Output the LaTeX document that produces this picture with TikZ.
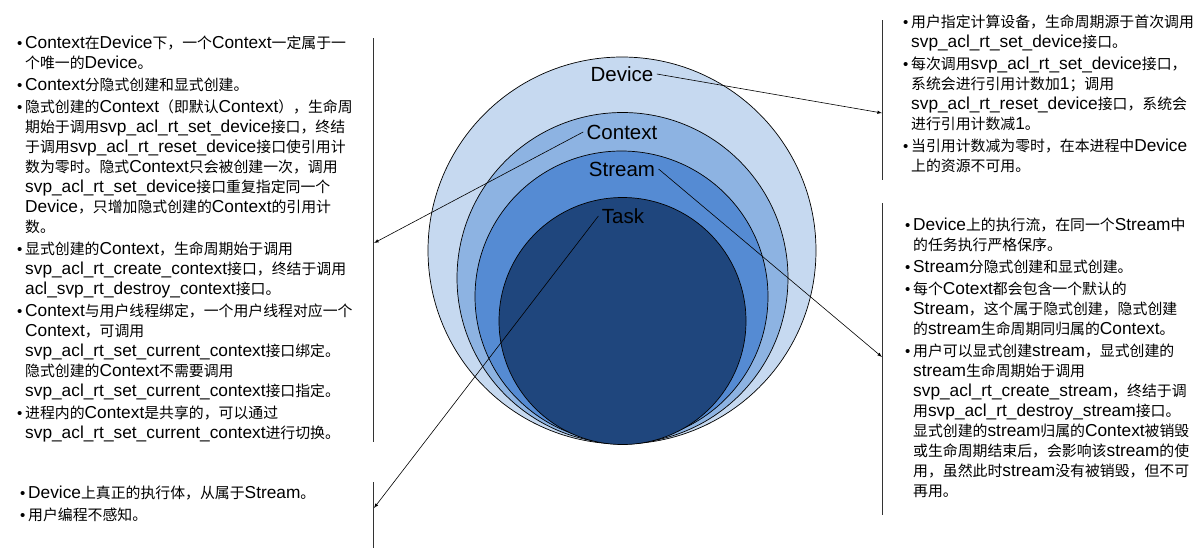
\documentclass[tikz,border=0pt]{standalone}
\usepackage{fontspec}
\setmainfont{Liberation Sans}
\newfontfamily\cjkfont{Noto Sans CJK SC}[Scale=0.86]
\usetikzlibrary{arrows}
\usepackage{xcolor}
\definecolor{devblue}{RGB}{198,217,240}
\definecolor{ctxblue}{RGB}{141,179,226}
\definecolor{strblue}{RGB}{85,139,211}
\definecolor{tskblue}{RGB}{31,70,125}

% CJK characters switch to the CJK font
\XeTeXinterchartokenstate=1
\chardef\cjkcls=200
\newcount\cjkcnt
\def\cjkrange#1#2{\cjkcnt=#1\relax
  \loop\XeTeXcharclass\cjkcnt=\cjkcls\relax
  \ifnum\cjkcnt<#2\advance\cjkcnt by 1\repeat}
\cjkrange{"3000}{"303F}
\cjkrange{"4E00}{"9FFF}
\cjkrange{"FF00}{"FFEF}
\XeTeXinterchartoks 0 \cjkcls={\begingroup\cjkfont}
\XeTeXinterchartoks 4095 \cjkcls={\begingroup\cjkfont}
\XeTeXinterchartoks \cjkcls 0={\endgroup}
\XeTeXinterchartoks \cjkcls 4095={\endgroup}

\newcommand{\bul}{\makebox[8pt][l]{\fontsize{15}{15}\selectfont\textbullet}}
\newcommand{\indl}{\hspace*{8pt}}

\begin{document}
\begin{tikzpicture}[x=1pt,y=-1pt,
  note/.style={align=left,anchor=north west,inner sep=0pt,font=\fontsize{17.3}{20}\selectfont},
  layer/.style={font=\fontsize{20.5}{24}\selectfont}]
\useasboundingbox (0,0) rectangle (1203,550);
%%%%%%%%%%%%%%%%
\draw[line width=0.7pt,fill=devblue] (622,250.5) ellipse [x radius=194,y radius=193.5];
\draw[line width=0.7pt,fill=ctxblue] (622.5,278) circle [radius=165.5];
\draw[line width=0.7pt,fill=strblue] (621.5,296.5) ellipse [x radius=146.5,y radius=145.5];
\draw[line width=0.7pt,fill=tskblue] (622.5,321) circle [radius=123.5];
%%%%%%%%%%%%%%%%
\node[layer] (dev) at (622,74) {Device};
\node[layer] (ctx) at (622,132) {Context};
\node[layer] (str) at (622,169) {Stream};
\node[layer] (tsk) at (623,216) {Task};
%%%%%%%%%%%%%%%%
\coordinate (ltop) at (373,38);
\coordinate (lbot) at (373,442);
\coordinate (ltop2) at (373,482);
\coordinate (lbot2) at (373,548);
\coordinate (rtop) at (882,20);
\coordinate (rbot) at (882,180);
\coordinate (rtop2) at (882,203);
\coordinate (rbot2) at (882,515);
\draw[line width=0.9pt,black!80] (ltop) -- (lbot);
\draw[line width=0.9pt,black!80] (ltop2) -- (lbot2);
\draw[line width=0.9pt,black!80] (rtop) -- (rbot);
\draw[line width=0.9pt,black!80] (rtop2) -- (rbot2);
%%%%%%%%%%%%%%%%
\coordinate (devend) at (882,113);
\coordinate (ctxend) at (374,243);
\coordinate (strend) at (882,357);
\coordinate (tskend) at (374,508);
\draw[line width=0.6pt,-latex] (dev.east) -- (devend);
\draw[line width=0.6pt,-latex] (ctx.west) -- (ctxend);
\draw[line width=0.6pt,-latex] (str.east) -- (strend);
\draw[line width=0.6pt,-latex] (tsk.west) -- (tskend);
%%%%%%%%%%%%%%%%
\node[note] (ctxnote) at (17,36) {%
\bul Context在Device下，一个Context一定属于一\\
\indl 个唯一的Device。\\[2pt]
\bul Context分隐式创建和显式创建。\\[2pt]
\bul 隐式创建的Context（即默认Context），生命周\\
\indl 期始于调用svp\_acl\_rt\_set\_device接口，终结\\
\indl 于调用svp\_acl\_rt\_reset\_device接口使引用计\\
\indl 数为零时。隐式Context只会被创建一次，调用\\
\indl svp\_acl\_rt\_set\_device接口重复指定同一个\\
\indl Device，只增加隐式创建的Context的引用计\\
\indl 数。\\[2pt]
\bul 显式创建的Context，生命周期始于调用\\
\indl svp\_acl\_rt\_create\_context接口，终结于调用\\
\indl acl\_svp\_rt\_destroy\_context接口。\\[2pt]
\bul Context与用户线程绑定，一个用户线程对应一个\\
\indl Context，可调用\\
\indl svp\_acl\_rt\_set\_current\_context接口绑定。\\
\indl 隐式创建的Context不需要调用\\
\indl svp\_acl\_rt\_set\_current\_context接口指定。\\[2pt]
\bul 进程内的Context是共享的，可以通过\\
\indl svp\_acl\_rt\_set\_current\_context进行切换。};
%%%%%%%%%%%%%%%%
\node[note] (tsknote) at (20,486) {%
\bul Device上真正的执行体，从属于Stream。\\[2pt]
\bul 用户编程不感知。};
%%%%%%%%%%%%%%%%
\node[note] (devnote) at (903,15) {%
\bul 用户指定计算设备，生命周期源于首次调用\\
\indl svp\_acl\_rt\_set\_device接口。\\[2pt]
\bul 每次调用svp\_acl\_rt\_set\_device接口，\\
\indl 系统会进行引用计数加1；调用\\
\indl svp\_acl\_rt\_reset\_device接口，系统会\\
\indl 进行引用计数减1。\\[2pt]
\bul 当引用计数减为零时，在本进程中Device\\
\indl 上的资源不可用。};
%%%%%%%%%%%%%%%%
\node[note] (strnote) at (905,218) {%
\bul Device上的执行流，在同一个Stream中\\
\indl 的任务执行严格保序。\\[2pt]
\bul Stream分隐式创建和显式创建。\\[2pt]
\bul 每个Cotext都会包含一个默认的\\
\indl Stream，这个属于隐式创建，隐式创建\\
\indl 的stream生命周期同归属的Context。\\[2pt]
\bul 用户可以显式创建stream，显式创建的\\
\indl stream生命周期始于调用\\
\indl svp\_acl\_rt\_create\_stream，终结于调\\
\indl 用svp\_acl\_rt\_destroy\_stream接口。\\
\indl 显式创建的stream归属的Context被销毁\\
\indl 或生命周期结束后，会影响该stream的使\\
\indl 用，虽然此时stream没有被销毁，但不可\\
\indl 再用。};
\end{tikzpicture}
\end{document}
